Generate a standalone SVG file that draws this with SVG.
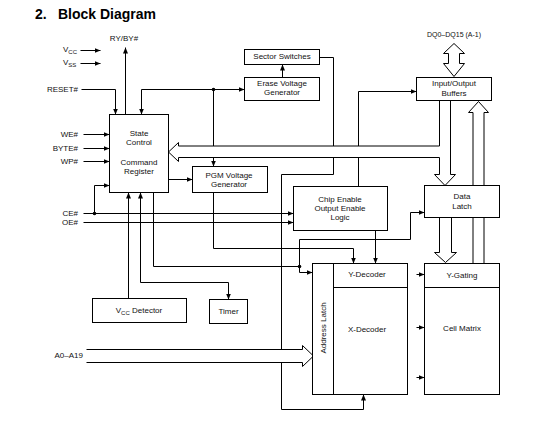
<svg xmlns="http://www.w3.org/2000/svg" width="539" height="431" viewBox="0 0 539 431">
<defs>
<style>
.b{fill:#fff;stroke:#000;stroke-width:1}
.c path{fill:none;stroke:#000;stroke-width:1}
.c path.h{fill:#fff}
.c circle{fill:#000}
text{font-family:"Liberation Sans",Arial,sans-serif;font-size:8px;fill:#111}
.m{text-anchor:middle}
.e{text-anchor:end}
.t{font-size:14px;font-weight:bold;fill:#000}
.s{font-size:6px}
</style>
<marker id="ah" viewBox="0 0 6 5" markerWidth="6" markerHeight="5" refX="6" refY="2.5" orient="auto" markerUnits="userSpaceOnUse"><path d="M0,0 L6,2.5 L0,5 Z" fill="#000"/></marker>
</defs>
<rect width="539" height="431" fill="#fff"/>
<text x="35" y="19" class="t">2.</text>
<text x="58" y="19" class="t">Block Diagram</text>
<g id="pins">
<text x="124" y="41" class="m">RY/BY#</text>
<text x="63" y="52">V<tspan class="s" dy="2">CC</tspan></text>
<text x="63" y="65">V<tspan class="s" dy="2">SS</tspan></text>
<text x="78" y="92" class="e">RESET#</text>
<text x="78" y="137" class="e">WE#</text>
<text x="78" y="151" class="e">BYTE#</text>
<text x="78" y="164" class="e">WP#</text>
<text x="78" y="216" class="e">CE#</text>
<text x="78" y="225" class="e">OE#</text>
<text x="83" y="358" class="e">A0–A19</text>
<text x="454" y="37" class="m" style="font-size:7px">DQ0–DQ15 (A-1)</text>
</g>
<g transform="translate(.5 .5)">
<g id="connectors" class="c">
<path d="M80,50 H100" marker-end="url(#ah)"/>
<path d="M80,63 H100" marker-end="url(#ah)"/>
<path d="M125,114 V47" marker-end="url(#ah)"/>
<path d="M81,89 H115 V114" marker-end="url(#ah)"/>
<path d="M213,89 H141 V114" marker-end="url(#ah)"/>
<path d="M213,89 H244" marker-end="url(#ah)"/>
<path d="M213,89 V166" marker-end="url(#ah)"/>
<path d="M282,77 V64" marker-end="url(#ah)"/>
<path d="M319,57 H333 V174 H281 V409 H363 V394" marker-end="url(#ah)"/>
<path d="M358,186 V91 H416" marker-end="url(#ah)"/>
<path d="M83,134 H109" marker-end="url(#ah)"/>
<path d="M83,148 H109" marker-end="url(#ah)"/>
<path d="M83,161 H109" marker-end="url(#ah)"/>
<path d="M83,213 H293" marker-end="url(#ah)"/>
<path d="M94,213 V185 H109" marker-end="url(#ah)"/>
<path d="M83,222 H293" marker-end="url(#ah)"/>
<path d="M168,179 H192" marker-end="url(#ah)"/>
<path d="M213,192 V248 H353 V263" marker-end="url(#ah)"/>
<path d="M375,230 V263" marker-end="url(#ah)"/>
<path d="M153,192 V266 H299"/>
<path d="M299,239 V272 H312" marker-end="url(#ah)"/>
<path d="M299,239 H410 V212 H424" marker-end="url(#ah)"/>
<path d="M128,298 V192" marker-end="url(#ah)"/>
<path d="M140,282 V192" marker-end="url(#ah)"/>
<path d="M140,282 H228 V299" marker-end="url(#ah)"/>
<path d="M416,274 H424" marker-end="url(#ah)"/>
<path d="M416,327 H424" marker-end="url(#ah)"/>
<path d="M416,377 H424" marker-end="url(#ah)"/>
<circle cx="213" cy="89" r="1.8"/>
<circle cx="94" cy="213" r="1.8"/>
<circle cx="299" cy="266" r="1.8"/>
<path class="h" d="M453.5,43 L464,53 H459 V63 H464 L453.5,76 L443,63 H448 V53 H443 Z"/>
<path class="h" d="M472.5,263 V112 H468 L478,101 L488,112 H483.5 V263"/>
<path class="h" d="M439,217 V252 H434 L445,262 L456,252 H451 V217"/>
<path class="h" d="M450,100 V174 H455 L444.5,185 L434,174 H439 V157 H178 V161 L168,151.5 L178,142 V145.5 H439 V100"/>
<path class="h" d="M86,349 H302 V345 L313,355.5 L302,366 V362 H86"/>
</g>
<g id="state-control"><rect class="b" x="109" y="114" width="59" height="78"/></g>
<g id="sector-switches"><rect class="b" x="244" y="49" width="75" height="15"/></g>
<g id="erase-voltage"><rect class="b" x="244" y="77" width="75" height="23"/></g>
<g id="io-buffers"><rect class="b" x="416" y="77" width="75" height="23"/></g>
<g id="pgm-voltage"><rect class="b" x="192" y="166" width="75" height="26"/></g>
<g id="chip-enable"><rect class="b" x="293" y="186" width="94" height="44"/></g>
<g id="data-latch"><rect class="b" x="424" y="185" width="75" height="32"/></g>
<g id="decoders"><rect class="b" x="312" y="263" width="95" height="131"/><path class="b" d="M333,263 V394 M333,287 H407"/></g>
<g id="cell-matrix"><rect class="b" x="424" y="263" width="75" height="131"/><path class="b" d="M424,287 H499"/></g>
<g id="vcc-detector"><rect class="b" x="92" y="298" width="94" height="24"/></g>
<g id="timer"><rect class="b" x="209" y="299" width="38" height="24"/></g>
</g>
<g id="labels">
<text x="139" y="136" class="m">State</text>
<text x="139" y="145" class="m">Control</text>
<text x="139" y="165" class="m">Command</text>
<text x="139" y="174" class="m">Register</text>
<text x="282" y="59" class="m">Sector Switches</text>
<text x="282" y="86" class="m">Erase Voltage</text>
<text x="282" y="95" class="m">Generator</text>
<text x="454" y="86" class="m">Input/Output</text>
<text x="454" y="96" class="m">Buffers</text>
<text x="229" y="178" class="m">PGM Voltage</text>
<text x="229" y="187" class="m">Generator</text>
<text x="340" y="202" class="m">Chip Enable</text>
<text x="340" y="211" class="m">Output Enable</text>
<text x="340" y="220" class="m">Logic</text>
<text x="462" y="199" class="m">Data</text>
<text x="462" y="209" class="m">Latch</text>
<text x="367" y="277" class="m">Y-Decoder</text>
<text x="367" y="332" class="m">X-Decoder</text>
<text x="462" y="278" class="m">Y-Gating</text>
<text x="462" y="331" class="m">Cell Matrix</text>
<text transform="translate(325.5 328) rotate(-90)" class="m">Address Latch</text>
<text x="139" y="313" class="m">V<tspan class="s" dy="2">CC</tspan><tspan dy="-2"> Detector</tspan></text>
<text x="228.5" y="314" class="m">Timer</text>
</g>
</svg>
